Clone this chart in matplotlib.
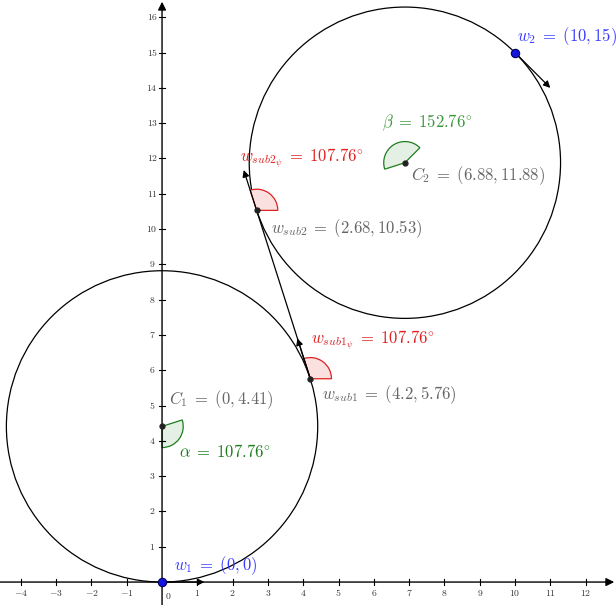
import matplotlib
matplotlib.use("Agg")
from matplotlib import pyplot as plt
from matplotlib.patches import Circle, Wedge
import numpy as np

plt.rcParams['mathtext.fontset'] = 'cm'
plt.rcParams['font.family'] = ['DejaVu Serif']

# data
radius = 4.41
c1 = (0.0, 4.41)
c2 = (6.88, 11.88)
w1 = (0.0, 0.0)
w2 = (10.0, 15.0)
w_sub1 = (4.2, 5.76)
w_sub2 = (2.68, 10.53)
heading = 107.76
alpha_span = (-90.0, 17.76)
beta_span = (45.0, 197.76)
w1_vec = (1.2, 0.0)
w2_vec = (1.0, -1.0)
sub_vec_len = 1.2
x_ticks = [-4, -3, -2, -1, 1, 2, 3, 4, 5, 6, 7, 8, 9, 10, 11, 12]
y_ticks = list(range(1, 17))

xlim = (-4.59, 12.86)
ylim = (-0.65, 16.49)

BLUE = '#3a3aff'
RED = '#e02020'
GREEN = '#1e7d1e'
GRAY = '#666666'

fig = plt.figure(figsize=(6.16, 6.05), dpi=100)
ax = fig.add_axes([0, 0, 1, 1])
ax.set_xlim(*xlim)
ax.set_ylim(*ylim)
ax.set_aspect('equal')
ax.axis('off')

# axes with arrowheads
ax.annotate('', xy=(xlim[1] - 0.05, 0), xytext=(xlim[0], 0),
            arrowprops=dict(arrowstyle='-|>', color='black', lw=1.0,
                            mutation_scale=12, shrinkA=0, shrinkB=0))
ax.annotate('', xy=(0, ylim[1] - 0.05), xytext=(0, ylim[0]),
            arrowprops=dict(arrowstyle='-|>', color='black', lw=1.0,
                            mutation_scale=12, shrinkA=0, shrinkB=0))
t = 0.08
for xt in x_ticks:
    ax.plot([xt, xt], [-t, t], color='black', lw=0.8)
    ax.text(xt, -0.3, '$%d$' % xt if xt >= 0 else '$-%d$' % -xt,
            ha='center', va='center', fontsize=7, color='#333333')
for yt in y_ticks:
    ax.plot([-t, t], [yt, yt], color='black', lw=0.8)
    ax.text(-0.28, yt, '$%d$' % yt, ha='center', va='center',
            fontsize=7, color='#333333')
ax.text(0.17, -0.4, '$0$', ha='center', va='center', fontsize=7,
        color='#333333')

# circles
for c in (c1, c2):
    ax.add_patch(Circle(c, radius, fill=False, ec='black', lw=0.9))

# angle sectors
r_s = 0.6
ax.add_patch(Wedge(c1, r_s, alpha_span[0], alpha_span[1],
                   fc='#e4f0e4', ec=GREEN, lw=0.9))
ax.add_patch(Wedge(c2, r_s, beta_span[0], beta_span[1],
                   fc='#e4f0e4', ec=GREEN, lw=0.9))
for p in (w_sub1, w_sub2):
    ax.add_patch(Wedge(p, r_s, 0, heading, fc='#fbe0e0', ec=RED, lw=0.9))

# segment between the two sub points
ax.plot([w_sub1[0], w_sub2[0]], [w_sub1[1], w_sub2[1]], color='black', lw=0.9)

# heading vectors
h = np.radians(heading)
sub_vec = (sub_vec_len * np.cos(h), sub_vec_len * np.sin(h))
for p, v in ((w1, w1_vec), (w2, w2_vec), (w_sub1, sub_vec), (w_sub2, sub_vec)):
    ax.annotate('', xy=(p[0] + v[0], p[1] + v[1]), xytext=p,
                arrowprops=dict(arrowstyle='-|>', color='black', lw=0.9,
                                mutation_scale=10, shrinkA=0, shrinkB=0))

# points
for p in (c1, c2, w_sub1, w_sub2):
    ax.plot(*p, 'o', ms=3.5, color='#222222', zorder=5)
for p in (w1, w2):
    ax.plot(*p, 'o', ms=6, mfc='#1515e0', mec='#000060', mew=0.8, zorder=5)

# labels
fs = 12
eq = r'\;=\;'
ax.text(0.33, 0.47, r'$w_1' + eq + r'(0, 0)$', color=BLUE, fontsize=fs, va='center')
ax.text(10.05, 15.45, r'$w_2' + eq + r'(10, 15)$', color=BLUE, fontsize=fs, va='center')
ax.text(6.22, 13.0, r'$\beta' + eq + r'152.76^{\circ}$', color='#3c963c', fontsize=fs, va='center')
ax.text(7.05, 11.5, r'$C_2' + eq + r'(6.88, 11.88)$', color=GRAY, fontsize=fs, va='center')
ax.text(2.22, 12.0, r'$w_{sub2_{\psi}}' + eq + r'107.76^{\circ}$', color=RED, fontsize=fs, va='center')
ax.text(3.1, 10.0, r'$w_{sub2}' + eq + r'(2.68, 10.53)$', color=GRAY, fontsize=fs, va='center')
ax.text(4.23, 6.83, r'$w_{sub1_{\psi}}' + eq + r'107.76^{\circ}$', color=RED, fontsize=fs, va='center')
ax.text(4.53, 5.3, r'$w_{sub1}' + eq + r'(4.2, 5.76)$', color=GRAY, fontsize=fs, va='center')
ax.text(0.2, 5.18, r'$C_1' + eq + r'(0, 4.41)$', color=GRAY, fontsize=fs, va='center')
ax.text(0.48, 3.68, r'$\alpha' + eq + r'107.76^{\circ}$', color=GREEN, fontsize=fs, va='center')

fig.savefig('out.png', dpi=100)
